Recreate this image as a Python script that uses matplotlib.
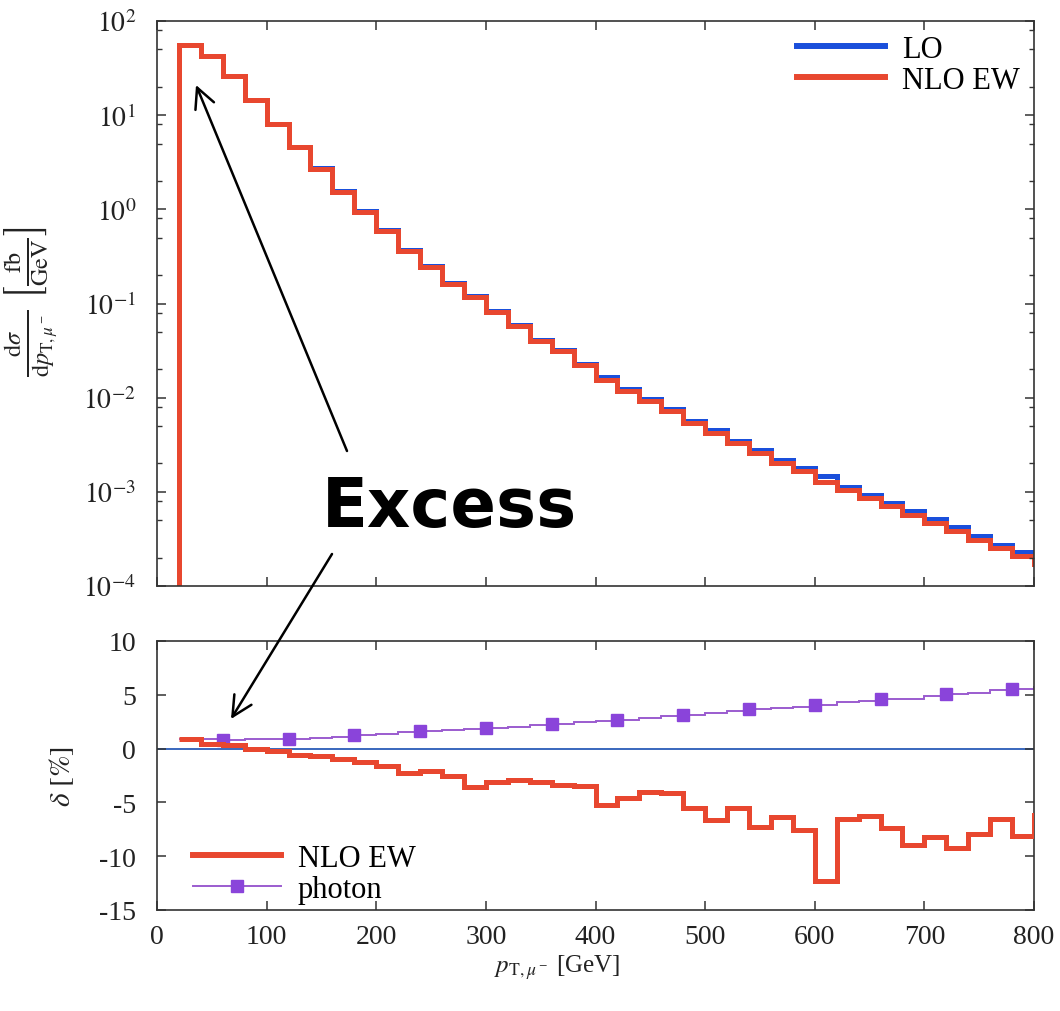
import numpy as np
import matplotlib
matplotlib.use("Agg")
import matplotlib.pyplot as plt
from matplotlib.patches import FancyArrowPatch
from matplotlib.lines import Line2D
from matplotlib.ticker import LogLocator, NullFormatter

plt.rcParams['font.family'] = ['Liberation Serif', 'DejaVu Serif']
plt.rcParams['mathtext.fontset'] = 'stix'
plt.rcParams['axes.unicode_minus'] = False

# ---------------- data ----------------
bin_edges = list(range(20, 840, 20))   # 20 GeV bins from 20 to 820 GeV

lo = [55.1, 42.3, 25.95, 14.5, 8.13, 4.63, 2.73, 1.55, 0.953, 0.60,
      0.368, 0.25, 0.164, 0.121, 0.0836, 0.0598, 0.0413, 0.0321, 0.0228, 0.0164,
      0.0124, 0.00964, 0.00755, 0.00572, 0.00453, 0.0035, 0.00279, 0.00217, 0.00181, 0.00146,
      0.00112, 0.00092, 0.000767, 0.000626, 0.000512, 0.000424, 0.000337, 0.000273, 0.000229, 0.000184]

nlo_ew = [55.6, 42.5, 26.0, 14.5, 8.1, 4.6, 2.7, 1.53, 0.94, 0.59,
          0.36, 0.245, 0.16, 0.117, 0.081, 0.058, 0.040, 0.031, 0.022, 0.0155,
          0.0118, 0.00925, 0.00724, 0.0054, 0.00423, 0.00331, 0.00259, 0.00203, 0.00167, 0.00128,
          0.00105, 0.00086, 0.00071, 0.00057, 0.00047, 0.000385, 0.00031, 0.000255, 0.00021, 0.000172]

delta_nlo_ew = [0.85, 0.45, 0.3, -0.05, -0.25, -0.6, -0.7, -0.95, -1.25, -1.65,
                -2.3, -2.1, -2.5, -3.55, -3.1, -2.95, -3.1, -3.4, -3.5, -5.25,
                -4.6, -4.0, -4.1, -5.55, -6.6, -5.55, -7.25, -6.4, -7.55, -12.35,
                -6.5, -6.3, -7.35, -8.95, -8.2, -9.2, -7.9, -6.5, -8.1, -6.2]

delta_photon = [0.85, 0.85, 0.8, 0.85, 0.9, 0.93, 1.0, 1.1, 1.3, 1.4,
                1.5, 1.6, 1.7, 1.8, 1.9, 2.05, 2.2, 2.3, 2.45, 2.55,
                2.7, 2.85, 3.0, 3.15, 3.3, 3.45, 3.65, 3.75, 3.9, 4.05,
                4.3, 4.45, 4.6, 4.65, 4.85, 5.05, 5.2, 5.4, 5.55, 5.7]

photon_marker_x = [60, 120, 180, 240, 300, 360, 420, 480, 540, 600, 660, 720, 780]

x_ticks = [0, 100, 200, 300, 400, 500, 600, 700, 800]
top_yticks = [1e-4, 1e-3, 1e-2, 1e-1, 1e0, 1e1, 1e2]
top_yticklabels = [r'$10^{-4}$', r'$10^{-3}$', r'$10^{-2}$', r'$10^{-1}$',
                   r'$10^{0}$', r'$10^{1}$', r'$10^{2}$']
bot_yticks = [-15, -10, -5, 0, 5, 10]
bot_yticklabels = ['-15', '-10', '-5', '0', '5', '10']

# ---------------- style ----------------
RED = '#E8472F'
BLUE = '#1A4FDB'
PURPLE_M = '#8A44DA'
PURPLE_L = '#9B5CCF'
ZERO = '#2A5CB8'
SPINE = '#333333'

W, H = 1060, 1012
fig = plt.figure(figsize=(W / 100, H / 100), dpi=100)

def px(x0, y0, x1, y1):
    return [x0 / W, 1 - y1 / H, (x1 - x0) / W, (y1 - y0) / H]

ax1 = fig.add_axes(px(157, 22, 1034, 587))
ax2 = fig.add_axes(px(157, 642, 1034, 911))

edges = np.array(bin_edges)

# top panel
ax1.stairs(lo, edges, baseline=1e-7, color=BLUE, lw=3.6, label='LO')
ax1.stairs(nlo_ew, edges, baseline=1e-7, color=RED, lw=3.6, label='NLO EW')
ax1.set_yscale('log')
ax1.set_xlim(0, 800)
ax1.set_ylim(1e-4, 1e2)
ax1.set_xticks(x_ticks)
ax1.set_yticks(top_yticks)
ax1.set_yticklabels(top_yticklabels)
ax1.yaxis.set_minor_locator(LogLocator(base=10, subs=(2, 5, 8)))
ax1.yaxis.set_minor_formatter(NullFormatter())
ax1.tick_params(labelbottom=False)

# bottom panel
ax2.axhline(0, color=ZERO, lw=1.3, zorder=1)
ax2.stairs(delta_photon, edges, baseline=None, color=PURPLE_L, lw=1.4, zorder=2)
mx = np.array(photon_marker_x)
my = [delta_photon[bin_edges.index(v)] for v in photon_marker_x]
ax2.plot(mx, my, ls='none', marker='s', ms=8, color=PURPLE_M, zorder=3)
ax2.stairs(delta_nlo_ew, edges, baseline=None, color=RED, lw=3.6, zorder=4)
ax2.set_xlim(0, 800)
ax2.set_ylim(-15, 10)
ax2.set_xticks(x_ticks)
ax2.set_xticklabels([str(v) for v in x_ticks])
ax2.set_yticks(bot_yticks)
ax2.set_yticklabels(bot_yticklabels)

for ax in (ax1, ax2):
    for s in ax.spines.values():
        s.set_color(SPINE)
        s.set_linewidth(1.2)
    ax.tick_params(which='both', direction='in', top=True, right=True,
                   color=SPINE, labelsize=20, labelcolor='#222222')
    ax.tick_params(which='major', length=6.5, width=1.1)
    ax.tick_params(which='minor', length=3.8, width=1.0)
    ax.tick_params(axis='y', pad=15)
    ax.tick_params(axis='x', pad=10)

# legends
h_lo = Line2D([], [], color=BLUE, lw=4.3)
h_nlo = Line2D([], [], color=RED, lw=4.3)
leg1 = ax1.legend([h_lo, h_nlo], ['LO', 'NLO EW'], loc='upper left',
                  bbox_to_anchor=(797 / W, 1 - 36 / H), bbox_transform=fig.transFigure,
                  frameon=False, fontsize=22, handlelength=2.88, handletextpad=0.55,
                  labelspacing=0.05, borderpad=0, borderaxespad=0)

h_nlo2 = Line2D([], [], color=RED, lw=4.3)
h_ph = Line2D([], [], color=PURPLE_L, lw=1.4, marker='s', ms=8,
              markerfacecolor=PURPLE_M, markeredgecolor=PURPLE_M)
leg2 = ax2.legend([h_nlo2, h_ph], ['NLO EW', 'photon'], loc='upper left',
                  bbox_to_anchor=(193 / W, 1 - 845 / H), bbox_transform=fig.transFigure,
                  frameon=False, fontsize=22, handlelength=2.88, handletextpad=0.55,
                  labelspacing=0.05, borderpad=0, borderaxespad=0)

# axis labels
fig.text(31 / W, 1 - 302 / H,
         r'$\frac{\mathrm{d}\sigma}{\mathrm{d}p_{\mathrm{T},\mu^-}}\ \left[\frac{\mathrm{fb}}{\mathrm{GeV}}\right]$',
         rotation=90, ha='center', va='center', fontsize=25, color='#222222')
fig.text(62 / W, 1 - 777 / H, r'$\delta\ [\%]$', rotation=90, ha='center', va='center',
         fontsize=21, color='#222222')
fig.text(557 / W, 1 - 968 / H, r'$p_{\mathrm{T},\mu^-}$ [GeV]', ha='center', va='center',
         fontsize=18, color='#222222')

# annotation
fig.text(450 / W, 1 - 527 / H, 'Excess', family='DejaVu Sans', fontweight='bold',
         fontsize=48.5, ha='center', va='baseline', color='black')

def fpt(x, y):
    return (x / W, 1 - y / H)

for tail, tip in [((347, 452), (196, 86)), ((332, 555), (231, 720))]:
    arr = FancyArrowPatch(fpt(*tail), fpt(*tip), transform=fig.transFigure,
                          arrowstyle='->', mutation_scale=36, lw=1.8, color='black',
                          shrinkA=0, shrinkB=0, zorder=10)
    fig.add_artist(arr)

fig.savefig('out.png', dpi=100)
